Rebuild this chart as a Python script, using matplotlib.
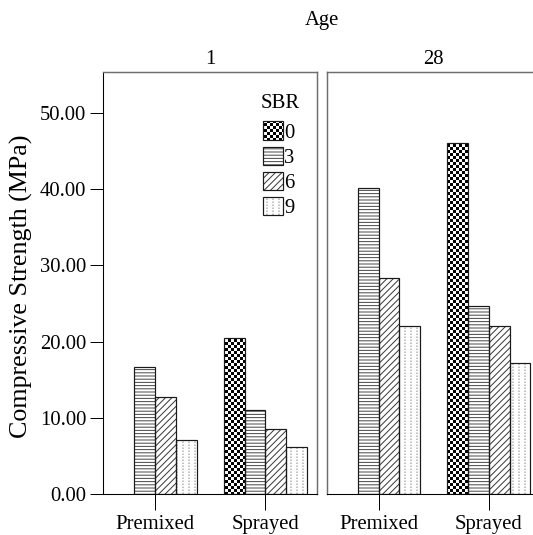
import numpy as np
import matplotlib
matplotlib.use("Agg")
import matplotlib.pyplot as plt
import matplotlib.patches as mpatches
import matplotlib.hatch as mhatch
from matplotlib.path import Path
from matplotlib.legend_handler import HandlerTuple

# ---------------- data ----------------
ages = ["1", "28"]
methods = ["Premixed", "Sprayed"]
sbr_levels = ["0", "3", "6", "9"]
# rows: method, columns: SBR level (nan = no bar)
age1_values = [[np.nan, 16.7, 12.7, 7.1],
               [20.5, 11.0, 8.5, 6.2]]
age28_values = [[np.nan, 40.1, 28.3, 22.1],
                [46.1, 24.7, 22.0, 17.2]]
y_ticks = [0, 10, 20, 30, 40, 50]

# ---------------- custom hatches ----------------
DPI = 96


class CheckerHatch(mhatch.HatchPatternBase):
    def __init__(self, hatch, density):
        self.n = 32 if "*" in hatch else 0
        self.num_vertices = (self.n * self.n // 2) * 5

    def set_vertices_and_codes(self, vertices, codes):
        n = self.n
        s = 1.0 / n
        e = 0.5 / DPI
        k = 0
        for i in range(n):
            for j in range(n):
                if (i + j) % 2 == 0:
                    x0, y0 = i * s + e, j * s + e
                    x1, y1 = (i + 1) * s - e, (j + 1) * s - e
                    vertices[k:k + 5] = [(x0, y0), (x1, y0), (x1, y1), (x0, y1), (x0, y0)]
                    codes[k:k + 5] = [Path.MOVETO, Path.LINETO, Path.LINETO,
                                      Path.LINETO, Path.CLOSEPOLY]
                    k += 5


class DottedVerticalHatch(mhatch.HatchPatternBase):
    def __init__(self, hatch, density):
        on = "O" in hatch
        self.nl = 16 if on else 0
        self.ns = 32 if on else 0
        self.num_vertices = self.nl * self.ns * 2

    def set_vertices_and_codes(self, vertices, codes):
        k = 0
        seg = 0.5 / DPI
        for i in range(self.nl):
            x = (i + 0.5) / self.nl
            for j in range(self.ns):
                y = (j + 0.5) / self.ns
                vertices[k] = (x, y)
                vertices[k + 1] = (x, y + seg)
                codes[k] = Path.MOVETO
                codes[k + 1] = Path.LINETO
                k += 2


try:
    types = mhatch._hatch_types
    for idx, t in enumerate(types):
        if t is mhatch.Stars:
            types[idx] = CheckerHatch
        elif t is mhatch.LargeCircles:
            types[idx] = DottedVerticalHatch
except Exception:
    pass

# ---------------- style ----------------
plt.rcParams["font.family"] = ["Liberation Serif", "DejaVu Serif"]
plt.rcParams["hatch.linewidth"] = 0.75
FS = 15.5

hatches = ["*", "-----", "/////", "O"]
hatch_colors = ["#000000", "#4a4a4a", "#3a3a3a", "#8a8a8a"]
edge_color = "#1a1a1a"
frame_color = "#6e6e6e"

fig = plt.figure(figsize=(533 / DPI, 535 / DPI), dpi=DPI)
bottom = (535 - 494.3) / 535
height = (494.3 - 71.7) / 535
width = 214 / 533
ax1 = fig.add_axes([103.3 / 533, bottom, width, height])
ax2 = fig.add_axes([326.7 / 533, bottom, width, height])

bar_w = 0.75 / len(sbr_levels)
xpos = np.arange(len(methods))

for ax, vals, age in zip([ax1, ax2], [age1_values, age28_values], ages):
    vals = np.array(vals, dtype=float)
    for k in range(len(sbr_levels)):
        h = vals[:, k]
        m = ~np.isnan(h)
        x = xpos[m] + (k - 1.5) * bar_w
        ax.bar(x, h[m], bar_w, color="white", edgecolor=hatch_colors[k],
               linewidth=0, hatch=hatches[k], zorder=2)
        ax.bar(x, h[m], bar_w, fill=False, edgecolor=edge_color,
               linewidth=0.9, zorder=3)
    ax.set_xlim(-0.47, 1.47)
    ax.set_ylim(0, 55.4)
    ax.set_xticks(xpos)
    ax.set_xticklabels(methods, fontsize=FS)
    ax.tick_params(axis="x", length=12, width=0.75, pad=3.5, color="black")
    ax.set_title(age, fontsize=FS, pad=6)
    for s in ["top", "right", "left"]:
        ax.spines[s].set_color(frame_color)
        ax.spines[s].set_linewidth(1.1)
    ax.spines["bottom"].set_color("black")
    ax.spines["bottom"].set_linewidth(0.8)

ax1.spines["left"].set_color("black")
ax1.spines["left"].set_linewidth(0.8)
ax1.set_yticks(y_ticks)
ax1.set_yticklabels(["%.2f" % v for v in y_ticks], fontsize=FS)
ax1.tick_params(axis="y", length=9.75, width=0.75, pad=3)
ax2.tick_params(axis="y", left=False, labelleft=False)

fig.text(322 / 533, 1 - 25 / 535, "Age", fontsize=FS, ha="center", va="baseline")
fig.text(21 / 533, 1 - 286 / 535, "Compressive Strength (MPa)", fontsize=19.5,
         rotation=90, ha="center", va="center")

# legend (title drawn as separate text)
fig.text(280 / 533, 1 - 108.5 / 535, "SBR", fontsize=FS, ha="center", va="baseline")
handles = []
for k in range(len(sbr_levels)):
    hp = mpatches.Patch(facecolor="white", edgecolor=hatch_colors[k], linewidth=0,
                        hatch=hatches[k])
    op = mpatches.Patch(fill=False, edgecolor=edge_color, linewidth=0.9)
    handles.append((hp, op))
leg = ax1.legend(handles, sbr_levels, fontsize=FS,
                 handler_map={tuple: HandlerTuple(ndivide=1, pad=0)},
                 frameon=False, loc="upper left",
                 bbox_to_anchor=(262.5 / 533, 1 - 121.5 / 535),
                 bbox_transform=fig.transFigure, borderpad=0, borderaxespad=0,
                 handlelength=1.0, handleheight=0.97, handletextpad=0.05,
                 labelspacing=0.2)

fig.savefig("out.png", dpi=DPI)
